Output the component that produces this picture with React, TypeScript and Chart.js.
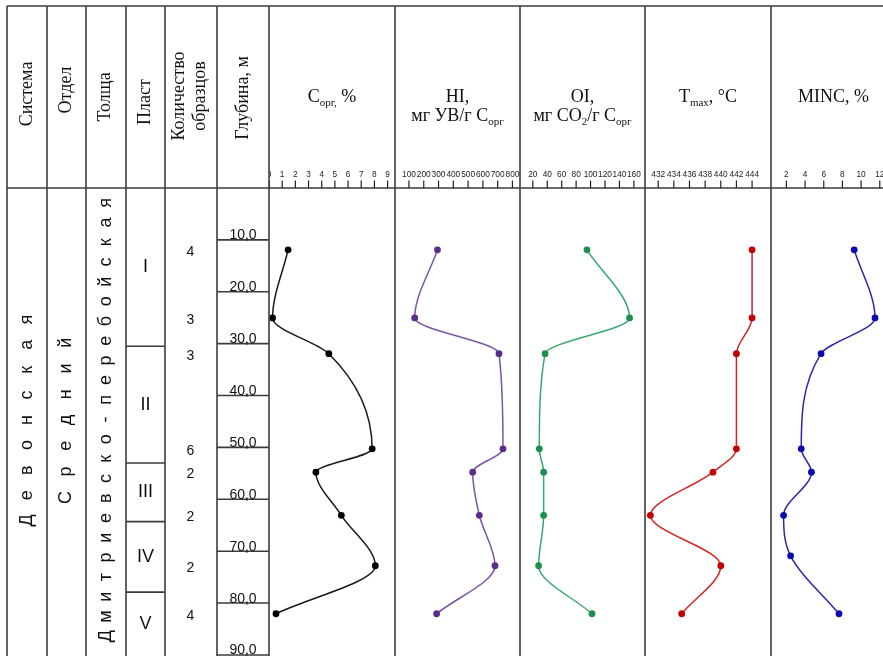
import React, { useEffect, useRef } from 'react';
import { Chart, registerables } from 'chart.js';

Chart.register(...registerables);

// ---------------- data ----------------
const sampleDepths = [11.92, 25.05, 31.93, 50.28, 54.77, 63.08, 72.81, 82.06];
const mincDepths = [11.92, 25.05, 31.93, 50.28, 54.77, 63.08, 70.9, 82.06];
const sampleCounts = [4, 3, 3, 6, 2, 2, 2, 4];
const corgValues = [1.45, 0.27, 4.54, 7.83, 3.56, 5.49, 8.07, 0.53];
const hiValues = [293, 139, 709, 736, 531, 576, 682, 287];
const oiValues = [95, 154, 37, 29, 35, 35, 28, 102];
const tmaxValues = [444, 444, 442, 442, 439, 431, 440, 435];
const mincValues = [9.26, 11.49, 5.71, 3.59, 4.68, 1.7, 2.45, 7.63];

const corgTicks = [0, 1, 2, 3, 4, 5, 6, 7, 8, 9];
const hiTicks = [100, 200, 300, 400, 500, 600, 700, 800];
const oiTicks = [20, 40, 60, 80, 100, 120, 140, 160];
const tmaxTicks = [432, 434, 436, 438, 440, 442, 444];
const mincTicks = [0, 2, 4, 6, 8, 10, 12];
const depthTicks = [10, 20, 30, 40, 50, 60, 70, 80, 90];

const layerNames = ['I', 'II', 'III', 'IV', 'V'];
const layerBounds = [0, 30.5, 53.0, 64.3, 77.9, 90];

const systemName = 'Девонская';
const seriesName = 'Средний';
const formationName = 'Дмитриевско-перебойская';

// ---------------- layout ----------------
const W = 883;
const H = 656;
const TOP = 6;
const HEAD = 188;
const PLOT_LEFT = 269;
const colLines = [7, 47, 86, 126, 165, 217, 269, 395, 520, 645, 771];
const LINE = '#3d3d3d';
const SERIF = '"Liberation Serif", "Times New Roman", serif';
const SANS = '"Liberation Sans", Arial, sans-serif';

type Seg = { t: string; sub?: boolean };

const panels = [
  { id: 'xC', left: 269, right: 395, min: 0, max: 9.5, ticks: corgTicks, values: corgValues, depths: sampleDepths,
    line: '#1a1a1a', point: '#000000',
    title: [[{ t: 'C' }, { t: 'орг,', sub: true }, { t: ' %' }]] as Seg[][] },
  { id: 'xHI', left: 395, right: 520, min: 0, max: 840, ticks: hiTicks, values: hiValues, depths: sampleDepths,
    line: '#7a55a6', point: '#5a2d8a',
    title: [[{ t: 'HI,' }], [{ t: 'мг УВ/г C' }, { t: 'орг', sub: true }]] as Seg[][] },
  { id: 'xOI', left: 520, right: 645, min: 0, max: 172, ticks: oiTicks, values: oiValues, depths: sampleDepths,
    line: '#3aa86e', point: '#1d8f4d',
    title: [[{ t: 'OI,' }], [{ t: 'мг CO' }, { t: '2', sub: true }, { t: '/г C' }, { t: 'орг', sub: true }]] as Seg[][] },
  { id: 'xT', left: 645, right: 771, min: 430, max: 446, ticks: tmaxTicks, values: tmaxValues, depths: sampleDepths,
    line: '#d02424', point: '#c40000',
    title: [[{ t: 'T' }, { t: 'max', sub: true }, { t: ', °C' }]] as Seg[][] },
  { id: 'xM', left: 771, right: 896, min: 0, max: 13.3, ticks: mincTicks, values: mincValues, depths: mincDepths,
    line: '#2a2aa6', point: '#0a0ab0',
    title: [[{ t: 'MINC, %' }]] as Seg[][] },
];

function drawRich(ctx: CanvasRenderingContext2D, segs: Seg[], cx: number, y: number, size: number) {
  const sub = Math.round(size * 0.6);
  let total = 0;
  const widths: number[] = [];
  for (const s of segs) {
    ctx.font = `${s.sub ? sub : size}px ${SERIF}`;
    const w = ctx.measureText(s.t).width;
    widths.push(w);
    total += w;
  }
  let x = cx - total / 2;
  ctx.textAlign = 'left';
  ctx.textBaseline = 'alphabetic';
  segs.forEach((s, i) => {
    ctx.font = `${s.sub ? sub : size}px ${SERIF}`;
    ctx.fillText(s.t, x, y + (s.sub ? 4 : 0));
    x += widths[i];
  });
}

function drawRotated(ctx: CanvasRenderingContext2D, lines: string[], cx: number, cy: number, font: string, lh: number) {
  ctx.save();
  ctx.translate(cx, cy);
  ctx.rotate(-Math.PI / 2);
  ctx.font = font;
  ctx.textAlign = 'center';
  ctx.textBaseline = 'middle';
  lines.forEach((l, i) => ctx.fillText(l, 0, (i - (lines.length - 1) / 2) * lh));
  ctx.restore();
}

function drawSpaced(ctx: CanvasRenderingContext2D, text: string, cx: number, cy: number, pitch: number, font: string) {
  const chars = [...text];
  ctx.save();
  ctx.translate(cx, cy);
  ctx.rotate(-Math.PI / 2);
  ctx.font = font;
  ctx.textAlign = 'center';
  ctx.textBaseline = 'middle';
  chars.forEach((c, i) => ctx.fillText(c, (i - (chars.length - 1) / 2) * pitch, 0));
  ctx.restore();
}

const tablePlugin = {
  id: 'tablePlugin',
  beforeDraw(chart: any) {
    const ctx = chart.ctx as CanvasRenderingContext2D;
    ctx.save();
    ctx.fillStyle = '#ffffff';
    ctx.fillRect(0, 0, W, H);
    ctx.restore();
  },
  afterDatasetsDraw(chart: any) {
    const ctx = chart.ctx as CanvasRenderingContext2D;
    const y = chart.scales.y;
    ctx.save();
    ctx.strokeStyle = LINE;
    ctx.lineWidth = 1.6;
    // frame
    ctx.beginPath();
    ctx.moveTo(colLines[0], TOP); ctx.lineTo(W, TOP);
    ctx.moveTo(colLines[0], HEAD); ctx.lineTo(W, HEAD);
    for (const x of colLines) { ctx.moveTo(x, TOP); ctx.lineTo(x, H); }
    // layer boundaries
    for (let i = 1; i < layerBounds.length - 1; i++) {
      const py = y.getPixelForValue(layerBounds[i]);
      ctx.moveTo(126, py); ctx.lineTo(165, py);
    }
    // depth lines
    for (const d of depthTicks) {
      const py = y.getPixelForValue(d);
      ctx.moveTo(217, py); ctx.lineTo(269, py);
    }
    ctx.stroke();

    ctx.fillStyle = '#111111';
    // header texts
    const hf = `18px ${SERIF}`;
    drawRotated(ctx, ['Система'], 27, 94, hf, 21);
    drawRotated(ctx, ['Отдел'], 66, 90, hf, 21);
    drawRotated(ctx, ['Толща'], 105, 97, hf, 21);
    drawRotated(ctx, ['Пласт'], 145, 102, hf, 21);
    drawRotated(ctx, ['Количество', 'образцов'], 190, 96, hf, 21);
    drawRotated(ctx, ['Глубина, м'], 243, 98, hf, 21);

    // panel titles + axis ticks
    for (const p of panels) {
      const cx = (p.left + p.right) / 2;
      drawRich(ctx, p.title[0], cx, 102, 18);
      if (p.title.length > 1) drawRich(ctx, p.title[1], cx, 121, 18);
      const sc = chart.scales[p.id];
      ctx.save();
      ctx.beginPath();
      ctx.rect(p.left, 150, p.right - p.left, 40);
      ctx.clip();
      ctx.strokeStyle = '#222222';
      ctx.lineWidth = 1.2;
      ctx.font = `8.3px ${SANS}`;
      ctx.textAlign = 'center';
      ctx.textBaseline = 'alphabetic';
      ctx.fillStyle = '#222222';
      ctx.beginPath();
      for (const t of p.ticks) {
        const x = sc.getPixelForValue(t);
        ctx.moveTo(x, 180.5); ctx.lineTo(x, HEAD);
        ctx.fillText(String(t), x, 176.5);
      }
      ctx.stroke();
      ctx.restore();
    }

    // body columns
    const midY = (y.top + y.bottom) / 2;
    ctx.fillStyle = '#111111';
    drawSpaced(ctx, systemName, 27, midY, 25.1, `18px ${SANS}`);
    drawSpaced(ctx, seriesName, 66.5, midY, 25.8, `18px ${SANS}`);
    drawSpaced(ctx, formationName, 106, midY - 0.5, 19.7, `18px ${SANS}`);

    ctx.font = `18px ${SANS}`;
    ctx.textAlign = 'center';
    ctx.textBaseline = 'middle';
    layerNames.forEach((n, i) => {
      const py = y.getPixelForValue((layerBounds[i] + layerBounds[i + 1]) / 2);
      ctx.fillText(n, 145.5, py);
    });

    ctx.font = `14px ${SANS}`;
    sampleCounts.forEach((c, i) => {
      const py = y.getPixelForValue(sampleDepths[i]);
      ctx.fillText(String(c), 190.5, py + 2);
    });

    ctx.textBaseline = 'alphabetic';
    ctx.font = `14px ${SANS}`;
    for (const d of depthTicks) {
      const py = y.getPixelForValue(d);
      ctx.fillText(d.toFixed(1).replace('.', ','), 243, py - 0.5);
    }
    ctx.restore();
  },
};

export default function App() {
  const ref = useRef<HTMLCanvasElement | null>(null);
  useEffect(() => {
    if (!ref.current) return;
    const scales: any = {
      y: {
        type: 'linear',
        display: false,
        reverse: true,
        min: 0,
        max: (H - HEAD) / 5.233,
      },
    };
    const plotW = W - PLOT_LEFT;
    for (const p of panels) {
      const ppu = (p.right - p.left) / (p.max - p.min);
      scales[p.id] = {
        type: 'linear',
        display: false,
        axis: 'x',
        position: 'top',
        bounds: 'data',
        min: p.min - (p.left - PLOT_LEFT) / ppu,
        max: p.min + (plotW - (p.left - PLOT_LEFT)) / ppu,
      };
    }
    const datasets = panels.map((p) => ({
      label: p.id,
      data: p.values.map((v, i) => ({ x: v, y: p.depths[i] })),
      xAxisID: p.id,
      yAxisID: 'y',
      showLine: true,
      cubicInterpolationMode: 'monotone',
      tension: 0.4,
      borderColor: p.line,
      borderWidth: 1.5,
      pointRadius: 3.4,
      pointBackgroundColor: p.point,
      pointBorderColor: p.point,
      pointBorderWidth: 0,
      clip: { left: -(p.left - PLOT_LEFT), right: -(W - p.right), top: 0, bottom: 0 },
    }));
    const chart = new Chart(ref.current, {
      type: 'scatter',
      data: { datasets },
      options: {
        animation: false,
        responsive: false,
        indexAxis: 'y',
        events: [],
        layout: { padding: { left: PLOT_LEFT, top: HEAD, right: 0, bottom: 0 } },
        plugins: { legend: { display: false }, tooltip: { enabled: false } },
        scales,
      },
      plugins: [tablePlugin],
    } as any);
    return () => chart.destroy();
  }, []);
  return (
    <div style={{ position: 'absolute', left: 0, top: 0, width: W, height: H, background: '#fff' }}>
      <canvas ref={ref} width={W} height={H} style={{ display: 'block', width: W, height: H }} />
    </div>
  );
}
